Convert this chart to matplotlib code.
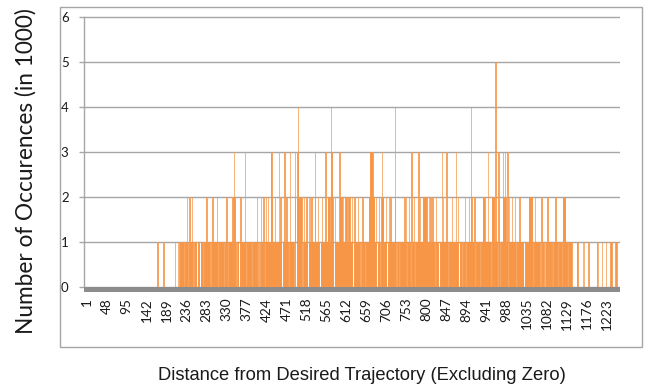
import matplotlib
matplotlib.use("Agg")
import matplotlib.pyplot as plt
from matplotlib.patches import Rectangle
import matplotlib.transforms as mtransforms

# Occurrence counts (in 1000) for distance categories 1..1260, one digit per category,
# read off the reference picture (each row = 50 consecutive categories).
occurrence_rows = [
    "00000000000000000000000000000000000000000000000000",  # 1-50
    "00000000000000000000000000000000000000000000000000",  # 51-100
    "00000000000000000000000000000000000000000000000000",  # 101-150
    "00000000000000000000001000000000000010000000000000",  # 151-200
    "00000000000000100000100011111111110001111121000121",  # 201-250
    "11112100011111000111100011111000111112001111110001",  # 251-300
    "11211111111121000111111111110001112100011111111112",  # 301-350
    "21321210001110001211111111113100011111111110001111",  # 351-400
    "11111120001000121111121000112111211111133221111112",  # 401-450
    "11111111311211000111131111211100013111111110023000",  # 451-500
    "23242122122200011211111210002112112111111132111111",  # 501-550
    "21100011121111111311111222221143322100012111111111",  # 551-600
    "31221221211111211211122221111120001211111112111100",  # 601-650
    "00102111110001111112223333333222111120001112100012",  # 651-700
    "32221111121000112111211111111142100011110001111111",  # 701-750
    "11121120001112111003001112000111111131121111111222",  # 751-800
    "22211211112111211112111100021111000001111311211111",  # 801-850
    "11311000111111211111111131111200011111000111120001",  # 851-900
    "11111211142111111200011111111100011112222211111113",  # 901-950
    "11111100022222111511100031100011113222232111130002",  # 951-1000
    "11111121111121100011111211111111100011111111122222",  # 1001-1050
    "22211000112111101111100002101110010011021001101101",  # 1051-1100
    "10011011211110011011111001222221111100111101110000",  # 1101-1150
    "00000000111000000000001001000000000100000000000000",  # 1151-1200
    "00000110100000000100000000010000000001101000000001",  # 1201-1250
    "0100000002",                                          # 1251-1260
]
occurrences = [int(c) for c in "".join(occurrence_rows)]
distances = list(range(1, len(occurrences) + 1))

tick_labels = ["1", "48", "95", "142", "189", "236", "283", "330", "377", "424",
               "471", "518", "565", "612", "659", "706", "753", "800", "847", "894",
               "941", "988", "1035", "1082", "1129", "1176", "1223"]
y_ticks = [0, 1, 2, 3, 4, 5, 6]

x_title = "Distance from Desired Trajectory (Excluding Zero)"
y_title = "Number of Occurences (in 1000)"

BAR = "#F79646"
GRID = "#A6A6A6"
BAND = "#8C8C8C"
FRAME = "#A6A6A6"
TICK_FONT = ["Lato", "DejaVu Sans"]

W, H = 646, 390
fig = plt.figure(figsize=(W / 100, H / 100), dpi=100)

# chart-area frame
fig.patches.append(Rectangle((60 / W, 1 - 347 / H), (642 - 60) / W, (347 - 7) / H,
                             transform=fig.transFigure, fill=False,
                             edgecolor=FRAME, linewidth=1.0))

ymin, ymax = -0.1, 6.02
px_per_unit = 45.0
bottom_px = 291.5
top_px = bottom_px - (ymax - ymin) * px_per_unit
ax = fig.add_axes([84 / W, 1 - bottom_px / H, 536 / W, (bottom_px - top_px) / H])

xpos = [d - 1 for d in distances]
ax.bar(xpos, occurrences, width=1.0, color=BAR, edgecolor=BAR, linewidth=0.5, zorder=2)
ax.set_xlim(-0.5, len(occurrences) - 0.5)
ax.set_ylim(ymin, ymax)
ax.axhspan(ymin, 0, color=BAND, lw=0, zorder=3)

ax.set_yticks(y_ticks)
ax.set_yticklabels([str(v) for v in y_ticks], family=TICK_FONT, fontsize=9.5, color="#1a1a1a")
ax.yaxis.grid(True, color=GRID, linewidth=1.0)
ax.set_axisbelow(True)

ax.set_xticks([int(t) - 1 for t in tick_labels])
ax.set_xticklabels(tick_labels, rotation=90, ha="center", va="top",
                   family=TICK_FONT, fontsize=9.8, color="#1a1a1a")
ax.tick_params(axis="x", length=0, pad=4.5)
ax.tick_params(axis="y", length=3.6, width=1.0, color=GRID, pad=7.5, direction="out")

offset = mtransforms.ScaledTranslation(2.5 / 100, 0, fig.dpi_scale_trans)
for lab in ax.get_xticklabels():
    lab.set_transform(lab.get_transform() + offset)

for s in ("top", "right", "bottom"):
    ax.spines[s].set_visible(False)
ax.spines["left"].set_color(GRID)
ax.spines["left"].set_linewidth(1.0)
ax.spines["left"].set_bounds(0, 6)

fig.text(26 / W, 1 - 171 / H, y_title, rotation=90, ha="center", va="center",
         fontsize=16.3, family=TICK_FONT, color="#1a1a1a")
fig.text(361.5 / W, 1 - 376 / H, x_title, ha="center", va="center",
         fontsize=13.2, family=["Liberation Sans", "DejaVu Sans"], color="#1a1a1a")

fig.savefig("out.png", dpi=100)
